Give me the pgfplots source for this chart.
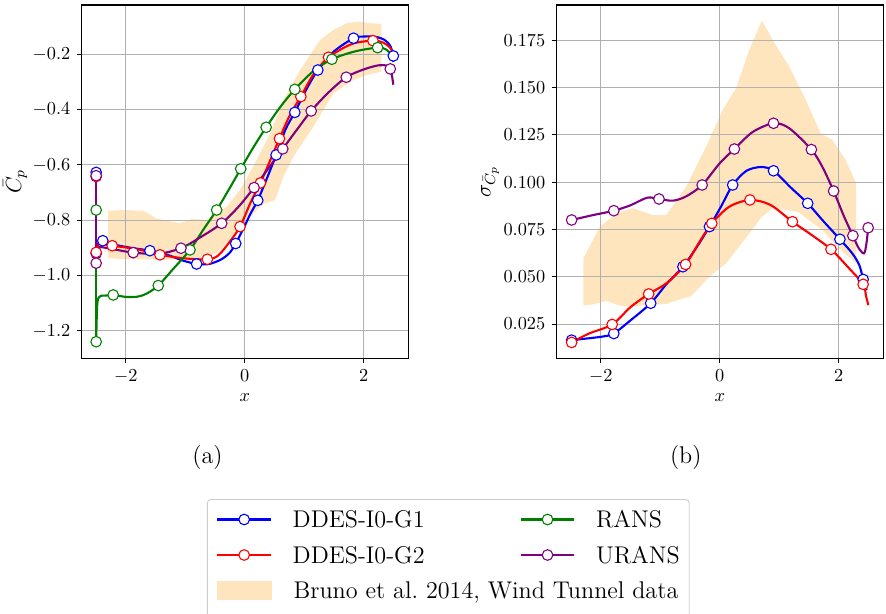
\documentclass[border=0pt]{standalone}
\usepackage{pgfplots}
\pgfplotsset{compat=1.18}
\definecolor{gridc}{RGB}{176,176,176}
\definecolor{bandc}{RGB}{254,229,190}
\definecolor{mgreen}{RGB}{0,128,0}
\definecolor{mpurple}{RGB}{128,0,128}
\pgfplotsset{
  myaxis/.style={
    scale only axis, width=178.6pt, height=193.05pt,
    xmin=-2.75, xmax=2.75,
    xtick={-2,0,2},
    tick align=outside, xtick pos=bottom, ytick pos=left,
    major tick length=2.5pt,
    tick style={black, line width=0.5pt},
    grid=major, major grid style={gridc, line width=0.5pt},
    axis line style={line width=0.6pt},
    set layers=standard,
    xlabel={$x$},
    every axis x label/.style={at={(axis description cs:0.5,-0.11)}, anchor=center},
  },
  sline/.style={line width=1.15pt, smooth, tension=0.5, forget plot},
  vline/.style={line width=1.15pt, forget plot},
  smark/.style={only marks, forget plot, mark=*, mark size=2.9pt, mark options={fill=white, draw=#1, line width=0.6pt, solid}},
  legl/.style={#1, line width=1.15pt, mark=*, mark size=2.9pt, mark options={fill=white, draw=#1, line width=0.6pt, solid}},
}
\begin{document}
\begin{tikzpicture}
% ---------------- (a) ----------------
\begin{axis}[myaxis, at={(44.42pt,-195.78pt)}, anchor=south west,
  ymin=-1.299, ymax=-0.022,
  ytick={-1.2,-1.0,-0.8,-0.6,-0.4,-0.2},
  yticklabel style={/pgf/number format/.cd, fixed, fixed zerofill, precision=1},
  ylabel={$\bar{C}_p$},
  every axis y label/.style={at={(axis description cs:-0.202,0.5)}, anchor=center, rotate=90, font=\large},
  legend columns=2,
  legend cell align=left,
  legend style={at={(0.3842,-0.3982)}, anchor=north west, draw=black!20, line width=0.5pt,
    rounded corners=2pt, inner xsep=4.9pt, inner ysep=5.45pt, font=\fontsize{13.2pt}{16pt}\selectfont, row sep=8.4pt,
    nodes={inner sep=0pt, text height=10pt, text depth=1pt, anchor=west},
    /tikz/every odd column/.append style={column sep=11.3pt}},
  legend image code/.code={\draw[mark repeat=2,mark phase=2,#1] plot coordinates {(0pt,0pt) (14.65pt,0pt) (29.3pt,0pt)};},
]
\addplot[fill=bandc, draw=none, forget plot, on layer=axis background] coordinates {
(-2.298,-0.766) (-2.045,-0.763) (-1.708,-0.766) (-1.483,-0.793) (-1.090,-0.811) (-0.893,-0.795) (-0.640,-0.799) (-0.303,-0.751) (-0.079,-0.690) (0.202,-0.582) (0.427,-0.486) (0.652,-0.365) (0.933,-0.257) (1.270,-0.148) (1.494,-0.112) (1.719,-0.088) (1.916,-0.082) (2.112,-0.088) (2.298,-0.090)
(2.298,-0.263) (2.056,-0.275) (1.831,-0.293) (1.494,-0.341) (1.326,-0.401) (1.157,-0.461) (0.820,-0.570) (0.652,-0.642) (0.511,-0.727) (0.315,-0.741) (0.146,-0.775) (-0.079,-0.823) (-0.247,-0.871) (-0.472,-0.919) (-0.753,-0.943) (-1.090,-0.943) (-1.596,-0.941) (-1.989,-0.941) (-2.298,-0.937)
} -- cycle;
% G1
\addplot[vline, blue] coordinates {(-2.5,-0.627) (-2.5,-0.920)};
\addplot[sline, blue] coordinates {(-2.5,-0.920) (-2.47,-0.885) (-2.388,-0.874) (-2.2,-0.888) (-1.9,-0.900) (-1.596,-0.910) (-1.3,-0.925) (-1.05,-0.945) (-0.809,-0.958) (-0.6,-0.958) (-0.4,-0.942) (-0.25,-0.917) (-0.152,-0.884) (0.0,-0.82) (0.1,-0.775) (0.219,-0.728) (0.38,-0.645) (0.528,-0.564) (0.69,-0.47) (0.843,-0.410) (1.03,-0.33) (1.230,-0.257) (1.5,-0.19) (1.831,-0.142) (2.0,-0.136) (2.2,-0.137) (2.35,-0.148) (2.45,-0.17) (2.5,-0.206)};
\addplot[smark=blue] coordinates {(-2.5,-0.627) (-2.5,-0.920) (-2.388,-0.874) (-1.596,-0.910) (-0.809,-0.958) (-0.152,-0.884) (0.219,-0.728) (0.528,-0.564) (0.843,-0.410) (1.230,-0.257) (1.831,-0.142) (2.5,-0.206)};
% G2
\addplot[vline, red] coordinates {(-2.5,-0.642) (-2.5,-0.916)};
\addplot[sline, red] coordinates {(-2.5,-0.916) (-2.46,-0.887) (-2.35,-0.888) (-2.230,-0.892) (-1.8,-0.905) (-1.427,-0.925) (-1.0,-0.938) (-0.629,-0.941) (-0.45,-0.928) (-0.25,-0.877) (-0.079,-0.823) (0.1,-0.735) (0.264,-0.665) (0.42,-0.588) (0.584,-0.505) (0.76,-0.42) (0.944,-0.353) (1.15,-0.275) (1.410,-0.211) (1.8,-0.163) (2.157,-0.151) (2.33,-0.158) (2.44,-0.175) (2.5,-0.198)};
\addplot[smark=red] coordinates {(-2.5,-0.642) (-2.5,-0.916) (-2.230,-0.892) (-1.427,-0.925) (-0.629,-0.941) (-0.079,-0.823) (0.264,-0.665) (0.584,-0.505) (0.944,-0.353) (1.410,-0.211) (2.157,-0.151)};
% RANS
\addplot[vline, mgreen] coordinates {(-2.5,-0.763) (-2.5,-1.239)};
\addplot[sline, mgreen] coordinates {(-2.5,-1.239) (-2.49,-1.15) (-2.48,-1.10) (-2.46,-1.08) (-2.42,-1.073) (-2.32,-1.072) (-2.213,-1.070) (-2.0,-1.077) (-1.8,-1.076) (-1.65,-1.065) (-1.455,-1.036) (-1.2,-0.975) (-0.921,-0.907) (-0.7,-0.835) (-0.472,-0.763) (-0.27,-0.69) (-0.067,-0.614) (0.15,-0.535) (0.360,-0.464) (0.6,-0.39) (0.843,-0.327) (1.15,-0.262) (1.466,-0.218) (1.85,-0.19) (2.236,-0.176) (2.38,-0.183) (2.47,-0.205) (2.5,-0.228)};
\addplot[smark=mgreen] coordinates {(-2.5,-0.763) (-2.5,-1.239) (-2.213,-1.070) (-1.455,-1.036) (-0.921,-0.907) (-0.472,-0.763) (-0.067,-0.614) (0.360,-0.464) (0.843,-0.327) (1.466,-0.218) (2.236,-0.176)};
% URANS
\addplot[vline, mpurple] coordinates {(-2.5,-0.639) (-2.5,-0.955)};
\addplot[sline, mpurple] coordinates {(-2.5,-0.955) (-2.48,-0.91) (-2.44,-0.897) (-2.2,-0.905) (-1.876,-0.917) (-1.45,-0.921) (-1.073,-0.901) (-0.75,-0.862) (-0.388,-0.811) (-0.1,-0.75) (0.157,-0.682) (0.4,-0.612) (0.640,-0.542) (0.88,-0.472) (1.118,-0.405) (1.4,-0.34) (1.708,-0.283) (2.0,-0.255) (2.25,-0.240) (2.4,-0.242) (2.46,-0.258) (2.5,-0.31)};
\addplot[smark=mpurple] coordinates {(-2.5,-0.639) (-2.5,-0.955) (-1.876,-0.917) (-1.073,-0.901) (-0.388,-0.811) (0.157,-0.682) (0.640,-0.542) (1.118,-0.405) (1.708,-0.283) (2.449,-0.253)};
% legend
\addlegendimage{legl=blue}
\addlegendentry{\makebox[124pt][l]{DDES-I0-G1}}
\addlegendimage{legl=mgreen}
\addlegendentry{\makebox[46pt][l]{RANS}}
\addlegendimage{legl=red}
\addlegendentry{\makebox[124pt][l]{DDES-I0-G2}}
\addlegendimage{legl=mpurple}
\addlegendentry{\makebox[46pt][l]{URANS}}
\addlegendimage{legend image code/.code={\fill[bandc, sharp corners] (0pt,-5pt) rectangle (29.3pt,5pt); \path (0pt,-14pt);}}
\addlegendentry{\makebox[0pt][l]{Bruno et al.\ 2014, Wind Tunnel data}}
\end{axis}
% ---------------- (b) ----------------
\begin{axis}[myaxis, at={(303.96pt,-195.78pt)}, anchor=south west,
  ymin=0.0069, ymax=0.1936,
  ytick={0.025,0.05,0.075,0.1,0.125,0.15,0.175},
  scaled y ticks=false,
  yticklabel style={/pgf/number format/.cd, fixed, fixed zerofill, precision=3},
  ylabel={$\sigma_{\bar{C}_p}$},
  every axis y label/.style={at={(axis description cs:-0.2025,0.5)}, anchor=center, rotate=90, font=\large},
]
\addplot[fill=bandc, draw=none, forget plot, on layer=axis background] coordinates {
(-2.296,0.0597) (-2.017,0.0765) (-1.737,0.0835) (-1.458,0.0862) (-1.123,0.0826) (-0.899,0.0826) (-0.564,0.0976) (-0.229,0.1188) (0.050,0.1382) (0.274,0.1496) (0.497,0.1699) (0.709,0.1854) (0.888,0.1752) (1.168,0.1611) (1.447,0.1434) (1.698,0.1258) (1.894,0.1223) (2.117,0.1117) (2.296,0.0994)
(2.296,0.057) (2.006,0.065) (1.726,0.0747) (1.307,0.0844) (1.112,0.0853) (0.888,0.0862) (0.709,0.0817) (0.497,0.0729) (0.302,0.065) (0.106,0.0571) (-0.173,0.050) (-0.480,0.0398) (-0.676,0.038) (-0.899,0.0356) (-1.235,0.035) (-1.570,0.0342) (-1.709,0.035) (-1.905,0.0372) (-2.101,0.0356) (-2.296,0.0347)
} -- cycle;
\addplot[sline, blue] coordinates {(-2.492,0.0165) (-2.2,0.0175) (-1.95,0.0185) (-1.782,0.020) (-1.5,0.027) (-1.162,0.036) (-0.9,0.046) (-0.620,0.0553) (-0.38,0.066) (-0.173,0.0765) (0.02,0.087) (0.218,0.0985) (0.45,0.106) (0.7,0.108) (0.905,0.106) (1.2,0.097) (1.480,0.0888) (1.726,0.080) (2.022,0.0698) (2.229,0.0624) (2.35,0.056) (2.413,0.0486) (2.47,0.043)};
\addplot[smark=blue] coordinates {(-2.492,0.0165) (-1.782,0.020) (-1.162,0.036) (-0.620,0.0553) (-0.173,0.0765) (0.218,0.0985) (0.905,0.106) (1.480,0.0888) (2.022,0.0698) (2.413,0.0486)};
\addplot[sline, red] coordinates {(-2.492,0.0153) (-2.2,0.020) (-1.810,0.0248) (-1.5,0.034) (-1.196,0.0409) (-0.9,0.0465) (-0.575,0.0565) (-0.35,0.068) (-0.134,0.0782) (0.16,0.087) (0.508,0.0906) (0.85,0.088) (1.223,0.0791) (1.55,0.072) (1.872,0.0645) (2.16,0.055) (2.413,0.046) (2.46,0.040) (2.5,0.035)};
\addplot[smark=red] coordinates {(-2.492,0.0153) (-1.810,0.0248) (-1.196,0.0409) (-0.575,0.0565) (-0.134,0.0782) (0.508,0.0906) (1.223,0.0791) (1.872,0.0645) (2.413,0.046)};
\addplot[sline, mpurple] coordinates {(-2.492,0.080) (-2.13,0.0826) (-1.782,0.0849) (-1.5,0.0878) (-1.22,0.0918) (-1.022,0.0911) (-0.787,0.0902) (-0.564,0.0925) (-0.296,0.0985) (0.0,0.110) (0.246,0.1175) (0.554,0.1265) (0.905,0.1311) (1.168,0.1285) (1.542,0.1172) (1.726,0.1081) (1.916,0.0953) (2.089,0.082) (2.240,0.0717) (2.34,0.065) (2.43,0.0624) (2.47,0.068) (2.497,0.0759)};
\addplot[smark=mpurple] coordinates {(-2.492,0.080) (-1.782,0.0849) (-1.022,0.0911) (-0.296,0.0985) (0.246,0.1175) (0.905,0.1311) (1.542,0.1172) (1.916,0.0953) (2.240,0.0717) (2.497,0.0759)};
\end{axis}
\node[anchor=base, font={\fontsize{13.2pt}{16pt}\selectfont}] at (113.4pt,-253.1pt) {(a)};
\node[anchor=base, font={\fontsize{13.2pt}{16pt}\selectfont}] at (374.7pt,-253.1pt) {(b)};
\pgfresetboundingbox
\path[use as bounding box] (0pt,0pt) rectangle (484.1pt,-334.94pt);
\end{tikzpicture}
\end{document}
